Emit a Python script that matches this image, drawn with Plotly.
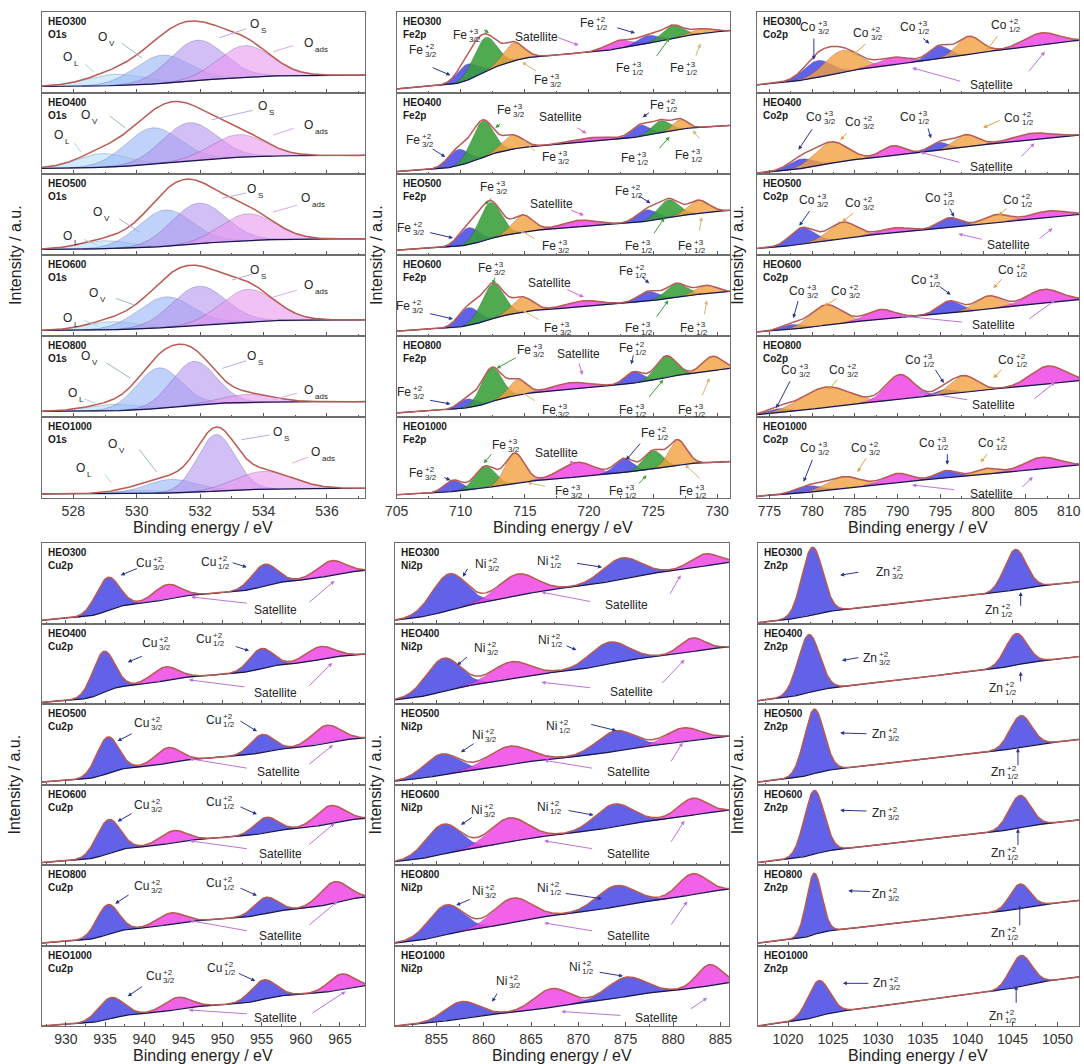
import math
import numpy as np
import plotly.graph_objects as go

W, H = 1084, 1064
SAMPLES = ["HEO300", "HEO400", "HEO500", "HEO600", "HEO800", "HEO1000"]

# ---------------- O 1s : O_L, O_V, O_S, O_ads ----------------
O1S_CENTER = [[529.3, 530.8, 531.9, 533.4], [528.9, 530.5, 531.65, 533.2], [529.0, 530.9, 531.95, 533.5],
              [529.2, 530.9, 531.95, 533.5], [529.2, 530.7, 531.8, 533.5], [530.0, 531.1, 532.5, 534.0]]
O1S_HEIGHT = [[0.14, 0.35, 0.50, 0.39], [0.17, 0.45, 0.47, 0.28], [0.10, 0.45, 0.50, 0.33],
              [0.10, 0.38, 0.48, 0.40], [0.08, 0.50, 0.54, 0.10], [0.04, 0.17, 0.70, 0.22]]
O1S_WIDTH = [[0.9, 0.85, 0.85, 0.85], [0.8, 0.85, 0.85, 0.85], [0.8, 0.85, 0.85, 0.85],
             [0.8, 0.85, 0.85, 0.85], [0.8, 0.7, 0.7, 0.8], [0.8, 0.8, 0.6, 0.9]]
O1S_BASE_LEFT = [0.08, 0.07, 0.07, 0.07, 0.07, 0.05]
O1S_BASE_RIGHT = [0.22, 0.23, 0.20, 0.20, 0.19, 0.12]

# ---------------- Fe 2p : Fe2+ 3/2, Fe3+ 3/2, Fe3+ 3/2, sat, Fe2+ 1/2, Fe3+ 1/2, Fe3+ 1/2 ----------------
FE_CENTER = [[710.5, 711.9, 714.1, 722.3, 724.6, 726.5, 728.7],
             [709.8, 711.7, 714.0, 720.0, 724.0, 725.6, 727.1],
             [710.6, 712.3, 714.8, 719.2, 724.5, 726.2, 728.5],
             [710.6, 712.5, 714.8, 719.5, 724.6, 726.8, 729.1],
             [710.5, 712.4, 714.4, 718.5, 723.5, 726.0, 729.6],
             [709.4, 711.9, 714.2, 719.0, 722.7, 725.0, 726.9]]
FE_HEIGHT = [[0.20, 0.42, 0.22, 0.10, 0.10, 0.16, 0.06],
             [0.20, 0.45, 0.17, 0.05, 0.14, 0.15, 0.12],
             [0.21, 0.45, 0.21, 0.08, 0.14, 0.22, 0.16],
             [0.22, 0.43, 0.18, 0.07, 0.12, 0.17, 0.10],
             [0.11, 0.42, 0.19, 0.08, 0.14, 0.27, 0.18],
             [0.14, 0.27, 0.37, 0.18, 0.17, 0.23, 0.31]]
FE_WIDTH = [[0.8, 0.9, 0.8, 1.0, 0.8, 0.8, 0.8],
            [0.8, 0.85, 0.8, 1.6, 0.7, 0.7, 0.55],
            [0.8, 0.85, 0.8, 1.3, 0.8, 0.8, 0.8],
            [0.8, 0.85, 0.8, 1.3, 0.8, 0.8, 0.8],
            [0.7, 0.8, 0.7, 1.4, 0.7, 0.8, 0.8],
            [0.7, 0.8, 0.75, 1.3, 0.7, 0.75, 0.7]]
FE_BASE_LEFT = [0.05, 0.03, 0.06, 0.06, 0.05, 0.04]
FE_BASE_RIGHT = [0.77, 0.60, 0.55, 0.55, 0.60, 0.45]

# ---------------- Co 2p : Co3+ 3/2, Co2+ 3/2, sat, Co3+ 1/2, Co2+ 1/2, sat ----------------
CO_CENTER = [[780.6, 783.5, 789.4, 794.8, 798.3, 806.7],
             [778.7, 782.2, 789.4, 794.8, 797.9, 805.6],
             [778.8, 783.5, 789.6, 796.0, 801.5, 807.5],
             [777.5, 781.6, 787.9, 796.0, 800.6, 807.0],
             [776.0, 781.5, 790.2, 795.4, 797.7, 807.5],
             [779.5, 783.6, 789.9, 795.6, 800.3, 806.7]]
CO_HEIGHT = [[0.21, 0.27, 0.09, 0.16, 0.22, 0.15],
             [0.12, 0.26, 0.12, 0.10, 0.15, 0.08],
             [0.20, 0.20, 0.06, 0.12, 0.10, 0.08],
             [0.06, 0.25, 0.12, 0.15, 0.16, 0.17],
             [0.05, 0.25, 0.30, 0.06, 0.20, 0.22],
             [0.08, 0.14, 0.11, 0.09, 0.07, 0.14]]
CO_WIDTH = [[1.6, 2.0, 1.8, 1.2, 1.4, 2.0],
            [1.5, 1.9, 1.3, 1.1, 1.4, 2.2],
            [1.4, 1.6, 1.6, 1.3, 1.5, 2.0],
            [1.2, 1.8, 1.6, 1.3, 1.5, 2.0],
            [1.2, 2.8, 1.6, 1.0, 1.5, 2.0],
            [1.5, 1.9, 1.5, 1.2, 1.3, 2.0]]
CO_BASE_LEFT = [0.10, 0.01, 0.08, 0.05, 0.03, 0.02]
CO_BASE_RIGHT = [0.65, 0.48, 0.50, 0.45, 0.45, 0.41]

# ---------------- Cu 2p : Cu2+ 3/2, sat, Cu2+ 1/2, sat ----------------
CU_CENTER = [[935.3, 942.9, 955.3, 963.8], [934.8, 942.6, 954.9, 962.4], [935.3, 943.0, 955.0, 963.2],
             [935.4, 943.7, 955.5, 963.7], [935.3, 943.3, 955.5, 964.2], [935.7, 944.2, 955.2, 965.1]]
CU_HEIGHT = [[0.41, 0.18, 0.27, 0.18], [0.51, 0.17, 0.25, 0.16], [0.45, 0.19, 0.22, 0.22],
             [0.42, 0.15, 0.19, 0.22], [0.37, 0.14, 0.20, 0.26], [0.26, 0.15, 0.24, 0.19]]
CU_WIDTH = [[1.5, 1.7, 1.6, 1.8], [1.4, 1.7, 1.5, 1.8], [1.4, 1.6, 1.5, 1.8],
            [1.5, 1.7, 1.5, 1.8], [1.4, 1.7, 1.5, 1.8], [1.6, 1.7, 1.6, 1.6]]
CU_BASE_LEFT = [0.04, 0.02, 0.03, 0.03, 0.03, 0.00]
CU_BASE_RIGHT = [0.66, 0.62, 0.58, 0.58, 0.60, 0.50]

# ---------------- Ni 2p : Ni2+ 3/2, sat, Ni2+ 1/2, sat ----------------
NI_CENTER = [[856.3, 863.5, 874.5, 883.3], [855.7, 862.8, 873.2, 882.0], [855.5, 862.6, 873.9, 881.0],
             [855.7, 862.6, 873.7, 882.0], [856.0, 863.0, 873.9, 882.0], [857.6, 867.1, 875.0, 883.8]]
NI_HEIGHT = [[0.45, 0.27, 0.26, 0.15], [0.41, 0.21, 0.27, 0.17], [0.26, 0.23, 0.25, 0.17],
             [0.37, 0.30, 0.28, 0.21], [0.37, 0.30, 0.26, 0.26], [0.21, 0.23, 0.24, 0.26]]
NI_WIDTH = [[1.8, 2.0, 2.0, 1.5], [1.8, 2.0, 2.0, 1.3], [1.8, 2.2, 2.0, 1.8],
            [1.8, 2.0, 2.0, 1.5], [1.8, 2.0, 2.0, 1.5], [1.8, 1.8, 2.0, 1.3]]
NI_BASE_LEFT = [0.04, 0.05, 0.04, 0.04, 0.03, 0.00]
NI_BASE_RIGHT = [0.76, 0.71, 0.60, 0.68, 0.70, 0.54]

# ---------------- Zn 2p : Zn2+ 3/2, Zn2+ 1/2 ----------------
ZN_CENTER = [[1022.7, 1045.3], [1022.3, 1045.4], [1022.9, 1045.9],
             [1022.9, 1045.8], [1022.9, 1045.8], [1023.4, 1045.9]]
ZN_HEIGHT = [[0.84, 0.50], [0.72, 0.39], [0.80, 0.39], [0.79, 0.40], [0.76, 0.30], [0.44, 0.38]]
ZN_WIDTH = [[1.15, 1.2], [1.2, 1.2], [1.1, 1.2], [1.1, 1.2], [0.85, 1.1], [1.2, 1.2]]
ZN_BASE_LEFT = [0.01, 0.04, 0.03, 0.03, 0.03, 0.00]
ZN_BASE_RIGHT = [0.52, 0.59, 0.56, 0.56, 0.56, 0.61]

# ---------------- styles ----------------
BLUE = "rgba(70,70,228,0.85)"
GREEN = "rgba(56,158,56,0.88)"
ORANGE = "rgba(242,160,62,0.80)"
MAGENTA = "rgba(238,70,228,0.85)"
O1S_COLORS = ["rgba(185,225,250,0.65)", "rgba(150,180,245,0.6)", "rgba(178,148,238,0.6)", "rgba(232,150,238,0.6)"]
ARROW = {"ol": "#a9d6ea", "ov": "#9fb3cc", "os": "#b9a9e3", "oads": "#e3a9e3",
         "navy": "#2b3590", "green": "#3c9c3c", "tan": "#d9b274", "orange": "#e2a040",
         "mag": "#d463d8", "violet": "#bd73d9"}
ENVELOPE = "#bb5a52"
BASELINE = "#16164e"
TEXT = "#262626"
FONT = "Liberation Sans, Arial, sans-serif"

# annotation layouts: (base, sup, sub, x, y, arrow colour, [(x0, y0, x1, y1), ...])
O1S_NOTES = [
    [("O", None, "L", 528.0, 0.44, "ol", [(528.33, 0.37, 528.65, 0.26)]),
     ("O", None, "V", 529.08, 0.69, "ov", [(529.48, 0.63, 530.17, 0.43)]),
     ("O", None, "S", 533.9, 0.85, "os", [(533.5, 0.80, 532.6, 0.68)]),
     ("O", None, "ads", 535.6, 0.62, "oads", [(534.98, 0.59, 534.3, 0.51)])],
    [("O", None, "L", 527.7, 0.48, "ol", [(528.0, 0.40, 528.24, 0.27)]),
     ("O", None, "V", 528.55, 0.73, "ov", [(529.1, 0.73, 529.64, 0.57)]),
     ("O", None, "S", 534.14, 0.84, "os", [(533.7, 0.79, 532.37, 0.67)]),
     ("O", None, "ads", 535.6, 0.60, "oads", [(535.0, 0.57, 534.3, 0.48)])],
    [("O", None, "L", 528.0, 0.24, "ol", [(528.3, 0.20, 528.85, 0.10)]),
     ("O", None, "V", 528.95, 0.53, "ov", [(529.4, 0.46, 530.1, 0.28)]),
     ("O", None, "S", 533.8, 0.81, "os", [(533.5, 0.77, 532.7, 0.70)]),
     ("O", None, "ads", 535.5, 0.70, "oads", [(535.1, 0.62, 534.3, 0.53)])],
    [("O", None, "L", 528.0, 0.22, "ol", [(528.3, 0.20, 528.8, 0.12)]),
     ("O", None, "V", 528.8, 0.53, "ov", [(529.3, 0.47, 529.95, 0.38)]),
     ("O", None, "S", 533.9, 0.81, "os", [(533.7, 0.77, 533.0, 0.69)]),
     ("O", None, "ads", 535.6, 0.63, "oads", [(535.1, 0.57, 534.3, 0.48)])],
    [("O", None, "L", 528.15, 0.30, "ol", [(528.3, 0.23, 528.7, 0.17)]),
     ("O", None, "V", 528.55, 0.75, "ov", [(529.0, 0.68, 529.8, 0.48)]),
     ("O", None, "S", 533.8, 0.75, "os", [(533.5, 0.70, 532.7, 0.60)]),
     ("O", None, "ads", 535.6, 0.33, "oads", [(535.1, 0.30, 534.3, 0.21)])],
    [("O", None, "L", 528.4, 0.37, "ol", [(528.96, 0.31, 529.2, 0.19)]),
     ("O", None, "V", 529.4, 0.67, "ov", [(530.04, 0.62, 530.63, 0.32)]),
     ("O", None, "S", 534.6, 0.82, "os", [(534.23, 0.78, 533.3, 0.72)]),
     ("O", None, "ads", 535.8, 0.57, "oads", [(535.45, 0.51, 534.9, 0.43)])],
]

FE_NOTES = [
    [("Fe", "+2", "3/2", 707.1, 0.53, "navy", [(707.7, 0.32, 709.2, 0.22)]),
     ("Fe", "+3", "3/2", 710.6, 0.72, "green", [(711.7, 0.79, 712.2, 0.74)]),
     ("Satellite", None, None, 715.9, 0.69, "mag", [(717.5, 0.69, 719.2, 0.59)]),
     ("Fe", "+3", "3/2", 716.9, 0.16, "tan", [(716.0, 0.26, 714.8, 0.38)]),
     ("Fe", "+2", "1/2", 720.5, 0.86, "navy", [(722.1, 0.81, 723.6, 0.74)]),
     ("Fe", "+3", "1/2", 723.3, 0.31, "green", [(725.2, 0.44, 726.3, 0.68)]),
     ("Fe", "+3", "1/2", 727.5, 0.31, "tan", [(728.3, 0.44, 728.7, 0.61)])],
    [("Fe", "+2", "3/2", 706.9, 0.42, "navy", [(707.7, 0.32, 708.8, 0.21)]),
     ("Fe", "+3", "3/2", 714.0, 0.79, "green", [(713.2, 0.63, 712.7, 0.57)]),
     ("Satellite", None, None, 717.8, 0.70, "mag", [(719.0, 0.58, 719.8, 0.50)]),
     ("Fe", "+3", "3/2", 717.5, 0.21, "tan", [(715.9, 0.27, 714.8, 0.42)]),
     ("Fe", "+2", "1/2", 725.9, 0.85, "navy", [(724.8, 0.77, 724.2, 0.70)]),
     ("Fe", "+3", "1/2", 723.7, 0.20, "green", [(725.4, 0.30, 726.3, 0.46)]),
     ("Fe", "+3", "1/2", 727.9, 0.23, "tan", [(728.7, 0.42, 728.1, 0.54)])],
    [("Fe", "+2", "3/2", 706.2, 0.33, "navy", [(707.5, 0.28, 709.4, 0.21)]),
     ("Fe", "+3", "3/2", 712.7, 0.84, "green", [(712.5, 0.72, 711.9, 0.62)]),
     ("Satellite", None, None, 717.1, 0.63, "mag", [(718.5, 0.56, 719.6, 0.49)]),
     ("Fe", "+3", "3/2", 717.5, 0.11, "tan", [(715.9, 0.19, 714.6, 0.31)]),
     ("Fe", "+2", "1/2", 723.2, 0.79, "navy", [(723.8, 0.74, 724.8, 0.64)]),
     ("Fe", "+3", "1/2", 724.0, 0.11, "green", [(725.0, 0.25, 725.9, 0.46)]),
     ("Fe", "+3", "1/2", 728.1, 0.11, "tan", [(728.6, 0.28, 728.8, 0.47)])],
    [("Fe", "+2", "3/2", 706.1, 0.37, "navy", [(707.5, 0.28, 709.4, 0.21)]),
     ("Fe", "+3", "3/2", 712.5, 0.84, "green", [(712.7, 0.74, 712.5, 0.64)]),
     ("Satellite", None, None, 716.9, 0.65, "mag", [(718.2, 0.58, 719.6, 0.48)]),
     ("Fe", "+3", "3/2", 717.7, 0.10, "tan", [(716.2, 0.19, 714.8, 0.32)]),
     ("Fe", "+2", "1/2", 723.5, 0.80, "navy", [(724.0, 0.75, 724.7, 0.65)]),
     ("Fe", "+3", "1/2", 724.0, 0.10, "green", [(725.2, 0.22, 726.2, 0.44)]),
     ("Fe", "+3", "1/2", 728.3, 0.10, "tan", [(729.0, 0.25, 729.2, 0.44)])],
    [("Fe", "+2", "3/2", 706.2, 0.31, "navy", [(707.5, 0.21, 709.2, 0.16)]),
     ("Fe", "+3", "3/2", 715.6, 0.83, "green", [(714.4, 0.74, 712.8, 0.60)]),
     ("Satellite", None, None, 719.2, 0.78, "mag", [(719.2, 0.68, 719.5, 0.52)]),
     ("Fe", "+3", "3/2", 717.5, 0.09, "tan", [(715.9, 0.19, 714.5, 0.33)]),
     ("Fe", "+2", "1/2", 723.5, 0.85, "navy", [(723.5, 0.78, 723.3, 0.65)]),
     ("Fe", "+3", "1/2", 723.5, 0.09, "green", [(724.6, 0.23, 725.8, 0.46)]),
     ("Fe", "+3", "1/2", 728.1, 0.09, "tan", [(728.8, 0.25, 729.4, 0.48)])],
    [("Fe", "+2", "3/2", 707.1, 0.31, "navy", [(708.6, 0.26, 709.2, 0.22)]),
     ("Fe", "+3", "3/2", 713.6, 0.65, "green", [(712.5, 0.56, 711.8, 0.43)]),
     ("Satellite", None, None, 717.5, 0.56, "mag", [(718.4, 0.48, 718.8, 0.41)]),
     ("Fe", "+3", "3/2", 718.5, 0.09, "tan", [(716.7, 0.14, 715.2, 0.19)]),
     ("Fe", "+2", "1/2", 725.2, 0.80, "navy", [(724.1, 0.69, 722.9, 0.47)]),
     ("Fe", "+3", "1/2", 722.7, 0.09, "green", [(723.8, 0.16, 724.5, 0.28)]),
     ("Fe", "+3", "1/2", 728.2, 0.09, "tan", [(728.8, 0.22, 727.5, 0.41)])],
]

CO_NOTES = [
    [("Co", "+3", "3/2", 780.6, 0.81, "navy", [(780.2, 0.69, 780.2, 0.41)]),
     ("Co", "+2", "3/2", 786.8, 0.74, "orange", [(786.4, 0.62, 784.8, 0.47)]),
     ("Co", "+3", "1/2", 792.2, 0.81, "navy", [(792.8, 0.69, 793.7, 0.61)]),
     ("Co", "+2", "1/2", 802.9, 0.84, "orange", [(801.8, 0.72, 800.4, 0.53)]),
     ("Satellite", None, None, 801.0, 0.10, "violet", [(797.5, 0.14, 791.7, 0.31), (805.2, 0.25, 807.2, 0.51)])],
    [("Co", "+3", "3/2", 781.3, 0.70, "navy", [(780.1, 0.57, 778.4, 0.30)]),
     ("Co", "+2", "3/2", 785.8, 0.64, "orange", [(784.2, 0.52, 783.3, 0.42)]),
     ("Co", "+3", "1/2", 792.3, 0.70, "navy", [(793.5, 0.58, 793.9, 0.44)]),
     ("Co", "+2", "1/2", 804.4, 0.69, "orange", [(802.1, 0.67, 800.0, 0.57)]),
     ("Satellite", None, None, 801.0, 0.09, "violet", [(797.4, 0.14, 792.6, 0.27), (804.3, 0.20, 806.0, 0.38)])],
    [("Co", "+3", "3/2", 780.4, 0.68, "navy", [(779.8, 0.56, 778.5, 0.36)]),
     ("Co", "+2", "3/2", 785.8, 0.64, "orange", [(785.0, 0.53, 783.5, 0.41)]),
     ("Co", "+3", "1/2", 795.2, 0.70, "navy", [(796.0, 0.59, 796.6, 0.47)]),
     ("Co", "+2", "1/2", 804.3, 0.68, "orange", [(802.9, 0.59, 801.8, 0.49)]),
     ("Satellite", None, None, 802.9, 0.12, "violet", [(800.0, 0.19, 797.1, 0.26), (806.4, 0.19, 808.1, 0.33)])],
    [("Co", "+3", "3/2", 779.3, 0.55, "navy", [(778.4, 0.45, 777.8, 0.22)]),
     ("Co", "+2", "3/2", 784.2, 0.56, "orange", [(783.0, 0.47, 781.4, 0.37)]),
     ("Co", "+3", "1/2", 793.5, 0.69, "navy", [(794.8, 0.62, 796.2, 0.51)]),
     ("Co", "+2", "1/2", 803.7, 0.81, "orange", [(802.3, 0.72, 801.2, 0.59)]),
     ("Satellite", None, None, 801.2, 0.14, "violet", [(797.7, 0.17, 790.2, 0.25), (805.2, 0.20, 808.4, 0.44)])],
    [("Co", "+3", "3/2", 778.3, 0.58, "navy", [(777.5, 0.46, 775.8, 0.11)]),
     ("Co", "+2", "3/2", 784.0, 0.58, "orange", [(783.1, 0.48, 781.9, 0.33)]),
     ("Co", "+3", "1/2", 792.8, 0.70, "navy", [(794.3, 0.60, 795.4, 0.42)]),
     ("Co", "+2", "1/2", 803.7, 0.70, "orange", [(802.3, 0.60, 801.2, 0.48)]),
     ("Satellite", None, None, 801.2, 0.15, "violet", [(798.3, 0.21, 792.5, 0.31), (805.8, 0.21, 808.4, 0.43)])],
    [("Co", "+3", "3/2", 780.6, 0.62, "navy", [(780.1, 0.49, 779.0, 0.20)]),
     ("Co", "+2", "3/2", 786.5, 0.62, "orange", [(786.4, 0.51, 785.3, 0.32)]),
     ("Co", "+3", "1/2", 794.5, 0.68, "navy", [(795.8, 0.56, 795.8, 0.41)]),
     ("Co", "+2", "1/2", 801.4, 0.68, "orange", [(800.6, 0.56, 799.7, 0.44)]),
     ("Satellite", None, None, 801.0, 0.05, "violet", [(796.8, 0.10, 791.7, 0.16), (804.4, 0.12, 805.8, 0.26)])],
]

CU_NOTES = [
    [("Cu", "+2", "3/2", 941.0, 0.75, "navy", [(939.25, 0.69, 937.0, 0.60)]),
     ("Cu", "+2", "1/2", 949.3, 0.76, "navy", [(951.1, 0.76, 953.1, 0.70)]),
     ("Satellite", None, None, 956.8, 0.17, "violet", [(953.3, 0.25, 946.0, 0.33), (960.9, 0.25, 964.3, 0.53)])],
    [("Cu", "+2", "3/2", 941.8, 0.76, "navy", [(939.9, 0.60, 937.9, 0.52)]),
     ("Cu", "+2", "1/2", 948.7, 0.81, "navy", [(951.5, 0.72, 953.4, 0.66)]),
     ("Satellite", None, None, 956.8, 0.14, "violet", [(953.0, 0.21, 945.7, 0.30), (960.9, 0.21, 964.0, 0.51)])],
    [("Cu", "+2", "3/2", 940.8, 0.76, "navy", [(938.6, 0.64, 936.6, 0.54)]),
     ("Cu", "+2", "1/2", 949.9, 0.80, "navy", [(952.1, 0.80, 954.4, 0.66)]),
     ("Satellite", None, None, 957.1, 0.15, "violet", [(953.3, 0.20, 945.8, 0.32), (960.9, 0.24, 964.1, 0.49)])],
    [("Cu", "+2", "3/2", 940.8, 0.74, "navy", [(938.6, 0.65, 936.6, 0.54)]),
     ("Cu", "+2", "1/2", 949.9, 0.78, "navy", [(952.1, 0.73, 954.4, 0.63)]),
     ("Satellite", None, None, 957.4, 0.14, "violet", [(953.3, 0.20, 945.8, 0.30), (960.9, 0.24, 964.3, 0.52)])],
    [("Cu", "+2", "3/2", 940.8, 0.74, "navy", [(938.2, 0.64, 936.3, 0.52)]),
     ("Cu", "+2", "1/2", 949.9, 0.78, "navy", [(952.1, 0.72, 954.4, 0.62)]),
     ("Satellite", None, None, 957.4, 0.12, "violet", [(953.3, 0.18, 945.8, 0.31), (960.9, 0.24, 964.7, 0.55)])],
    [("Cu", "+2", "3/2", 942.3, 0.62, "navy", [(939.9, 0.50, 937.9, 0.37)]),
     ("Cu", "+2", "1/2", 950.0, 0.72, "navy", [(951.9, 0.66, 954.2, 0.56)]),
     ("Satellite", None, None, 956.8, 0.10, "violet", [(953.3, 0.15, 945.7, 0.20), (961.3, 0.15, 965.7, 0.43)])],
]

NI_NOTES = [
    [("Ni", "+2", "3/2", 860.4, 0.74, "navy", [(858.4, 0.70, 857.8, 0.58)]),
     ("Ni", "+2", "1/2", 866.9, 0.78, "navy", [(869.7, 0.75, 872.5, 0.70)]),
     ("Satellite", None, None, 875.1, 0.23, "violet", [(871.4, 0.27, 866.1, 0.39), (879.6, 0.35, 880.8, 0.60)])],
    [("Ni", "+2", "3/2", 860.3, 0.69, "navy", [(858.4, 0.60, 857.2, 0.48)]),
     ("Ni", "+2", "1/2", 867.0, 0.79, "navy", [(868.6, 0.73, 869.8, 0.67)]),
     ("Satellite", None, None, 875.6, 0.15, "violet", [(871.4, 0.20, 866.1, 0.27), (878.7, 0.24, 881.2, 0.55)])],
    [("Ni", "+2", "3/2", 860.0, 0.61, "navy", [(859.1, 0.52, 857.6, 0.40)]),
     ("Ni", "+2", "1/2", 867.8, 0.73, "navy", [(871.2, 0.75, 874.0, 0.67)]),
     ("Satellite", None, None, 875.3, 0.15, "violet", [(871.6, 0.20, 866.4, 0.30), (879.7, 0.27, 881.0, 0.52)])],
    [("Ni", "+2", "3/2", 859.9, 0.68, "navy", [(858.9, 0.60, 857.6, 0.50)]),
     ("Ni", "+2", "1/2", 866.9, 0.72, "navy", [(868.8, 0.68, 871.6, 0.62)]),
     ("Satellite", None, None, 875.3, 0.14, "violet", [(871.6, 0.20, 866.4, 0.30), (879.7, 0.27, 881.2, 0.55)])],
    [("Ni", "+2", "3/2", 860.0, 0.68, "navy", [(858.7, 0.58, 857.1, 0.50)]),
     ("Ni", "+2", "1/2", 866.9, 0.72, "navy", [(868.5, 0.65, 872.5, 0.58)]),
     ("Satellite", None, None, 875.3, 0.12, "violet", [(871.6, 0.18, 866.4, 0.28), (879.7, 0.24, 881.5, 0.55)])],
    [("Ni", "+2", "3/2", 862.6, 0.56, "navy", [(861.5, 0.42, 860.9, 0.30)]),
     ("Ni", "+2", "1/2", 870.3, 0.73, "navy", [(872.1, 0.67, 874.7, 0.62)]),
     ("Satellite", None, None, 878.2, 0.10, "violet", [(874.6, 0.13, 868.2, 0.18), (881.7, 0.20, 883.6, 0.35)])],
]

ZN_NOTES = [
    [("Zn", "+2", "3/2", 1031.5, 0.64, "navy", [(1028.0, 0.64, 1025.8, 0.60)]),
     ("Zn", "+2", "1/2", 1043.6, 0.17, "navy", [(1045.9, 0.20, 1045.9, 0.39)])],
    [("Zn", "+2", "3/2", 1030.0, 0.57, "navy", [(1028.0, 0.58, 1026.0, 0.54)]),
     ("Zn", "+2", "1/2", 1044.1, 0.20, "navy", [(1045.9, 0.26, 1045.9, 0.40)])],
    [("Zn", "+2", "3/2", 1031.0, 0.63, "navy", [(1028.9, 0.63, 1025.8, 0.64)]),
     ("Zn", "+2", "1/2", 1044.3, 0.15, "navy", [(1045.6, 0.22, 1045.6, 0.45)])],
    [("Zn", "+2", "3/2", 1031.0, 0.65, "navy", [(1028.9, 0.67, 1025.8, 0.68)]),
     ("Zn", "+2", "1/2", 1044.3, 0.15, "navy", [(1045.6, 0.23, 1045.6, 0.45)])],
    [("Zn", "+2", "3/2", 1031.0, 0.64, "navy", [(1029.3, 0.67, 1026.7, 0.68)]),
     ("Zn", "+2", "1/2", 1044.3, 0.15, "navy", [(1045.8, 0.23, 1045.8, 0.50)])],
    [("Zn", "+2", "3/2", 1031.1, 0.54, "navy", [(1029.1, 0.53, 1026.1, 0.53)]),
     ("Zn", "+2", "1/2", 1044.1, 0.12, "navy", [(1045.4, 0.27, 1045.4, 0.50)])],
]

COLUMNS = [
    dict(name="O1s", c=O1S_CENTER, h=O1S_HEIGHT, w=O1S_WIDTH, bl=O1S_BASE_LEFT, br=O1S_BASE_RIGHT,
         shirley=0.9, xr=(527.0, 537.2), dtick=2, minor=1, colors=O1S_COLORS, notes=O1S_NOTES,
         px=(30, 358), block=(12, 498), head=0, ytitle_x=3),
    dict(name="Fe2p", c=FE_CENTER, h=FE_HEIGHT, w=FE_WIDTH, bl=FE_BASE_LEFT, br=FE_BASE_RIGHT,
         shirley=0.55, xr=(705.0, 731.0), dtick=5, minor=2.5,
         colors=[BLUE, GREEN, ORANGE, MAGENTA, BLUE, GREEN, ORANGE], notes=FE_NOTES,
         px=(390, 728), block=(12, 498), head=2, ytitle_x=369),
    dict(name="Co2p", c=CO_CENTER, h=CO_HEIGHT, w=CO_WIDTH, bl=CO_BASE_LEFT, br=CO_BASE_RIGHT,
         shirley=0.3, xr=(773.5, 811.2), dtick=5, minor=2.5,
         colors=[BLUE, ORANGE, MAGENTA, BLUE, ORANGE, MAGENTA], notes=CO_NOTES,
         px=(755, 1082), block=(12, 498), head=2, ytitle_x=735),
    dict(name="Cu2p", c=CU_CENTER, h=CU_HEIGHT, w=CU_WIDTH, bl=CU_BASE_LEFT, br=CU_BASE_RIGHT,
         shirley=0.5, xr=(926.9, 968.2), dtick=5, minor=2.5,
         colors=[BLUE, MAGENTA, BLUE, MAGENTA], notes=CU_NOTES,
         px=(30, 358), block=(543, 1026), head=2, ytitle_x=3),
    dict(name="Ni2p", c=NI_CENTER, h=NI_HEIGHT, w=NI_WIDTH, bl=NI_BASE_LEFT, br=NI_BASE_RIGHT,
         shirley=0.35, xr=(850.6, 885.9), dtick=5, minor=2.5,
         colors=[BLUE, MAGENTA, BLUE, MAGENTA], notes=NI_NOTES,
         px=(388, 727), block=(543, 1026), head=2, ytitle_x=369),
    dict(name="Zn2p", c=ZN_CENTER, h=ZN_HEIGHT, w=ZN_WIDTH, bl=ZN_BASE_LEFT, br=ZN_BASE_RIGHT,
         shirley=0.15, xr=(1016.6, 1052.4), dtick=5, minor=2.5,
         colors=[BLUE, BLUE], notes=ZN_NOTES,
         px=(756, 1082), block=(543, 1026), head=2, ytitle_x=736),
]

_erf = np.vectorize(math.erf)


def gaussian(x, c, h, s):
    return h * np.exp(-0.5 * ((x - c) / s) ** 2)


def background(x, cs, hs, ss, left, right, shirley):
    # Shirley-type step (normalised peak area to the left) mixed with a linear slope
    area = sum(h * s * (1 + _erf((x - c) / (s * math.sqrt(2)))) for c, h, s in zip(cs, hs, ss))
    area = area / area[-1]
    lin = (x - x[0]) / (x[-1] - x[0])
    return left + (right - left) * ((1 - shirley) * lin + shirley * area)


def aid(k):
    return "" if k == 1 else str(k)


fig = go.Figure()
layout = dict(width=W, height=H, margin=dict(l=0, r=0, t=0, b=0), showlegend=False,
              paper_bgcolor="white", plot_bgcolor="white")
ann = []


def add_label(k, base, sup, sub, x, y):
    xr, yr = "x" + aid(k), "y" + aid(k)
    plain = sup is None and sub is None
    ann.append(dict(xref=xr, yref=yr, x=x, y=y, text=base, showarrow=False,
                    xanchor="center" if plain else "right", yanchor="middle",
                    font=dict(family=FONT, size=12, color=TEXT), borderpad=0))
    if sup:
        ann.append(dict(xref=xr, yref=yr, x=x, y=y, text=sup, showarrow=False, xanchor="left",
                        yanchor="bottom", yshift=-2, font=dict(family=FONT, size=8, color=TEXT), borderpad=0))
    if sub:
        ann.append(dict(xref=xr, yref=yr, x=x, y=y, text=sub, showarrow=False, xanchor="left",
                        yanchor="top", yshift=1 if sup else -1, font=dict(family=FONT, size=8, color=TEXT),
                        borderpad=0))


for ci, col in enumerate(COLUMNS):
    x = np.linspace(col["xr"][0], col["xr"][1], 700)
    top, bottom = col["block"]
    row_h = (bottom - top) / 6.0
    for r in range(6):
        k = ci * 6 + r + 1
        xa, ya = "x" + aid(k), "y" + aid(k)
        cs, hs, ss = col["c"][r], col["h"][r], col["w"][r]
        base = background(x, cs, hs, ss, col["bl"][r], col["br"][r], col["shirley"])
        comps = [gaussian(x, c, h, s) for c, h, s in zip(cs, hs, ss)]
        for g, color in zip(comps, col["colors"]):
            m = g > 0.004
            xs = x[m]
            fig.add_trace(go.Scatter(
                x=np.concatenate([xs, xs[::-1]]),
                y=np.concatenate([base[m] + g[m], base[m][::-1]]),
                mode="lines", fill="toself", fillcolor=color,
                line=dict(width=0.6, color="rgba(30,30,80,0.35)"),
                hoverinfo="skip", xaxis=xa, yaxis=ya))
        fig.add_trace(go.Scatter(x=x, y=base, mode="lines", line=dict(color=BASELINE, width=1.2),
                                 hoverinfo="skip", xaxis=xa, yaxis=ya))
        fig.add_trace(go.Scatter(x=x, y=base + sum(comps), mode="lines",
                                 line=dict(color=ENVELOPE, width=1.5),
                                 hoverinfo="skip", xaxis=xa, yaxis=ya))

        y_top = top + r * row_h
        y_bot = y_top + row_h
        last = r == 5
        layout["xaxis" + aid(k)] = dict(
            domain=[col["px"][0] / W, col["px"][1] / W], anchor=ya, range=list(col["xr"]),
            showline=True, mirror=True, linecolor="#6e6e6e", linewidth=1, showgrid=False, zeroline=False,
            ticks="inside", ticklen=4, tickwidth=1, tickcolor="#555", dtick=col["dtick"], tick0=0,
            minor=dict(ticks="inside", ticklen=2, dtick=col["minor"], tick0=0, tickcolor="#555"),
            showticklabels=last, tickfont=dict(family=FONT, size=14, color="#333"))
        layout["yaxis" + aid(k)] = dict(
            domain=[1 - y_bot / H, 1 - y_top / H], anchor=xa, range=[0, 1],
            showline=True, mirror=True, linecolor="#6e6e6e", linewidth=1, showgrid=False, zeroline=False,
            ticks="", showticklabels=False)

        ann.append(dict(xref=xa + " domain", yref=ya + " domain", x=0, y=1, xanchor="left", yanchor="top",
                        xshift=4, yshift=-2, align="left", showarrow=False,
                        text="<b>%s<br>%s</b>" % (SAMPLES[r], col["name"]),
                        font=dict(family=FONT, size=10, color="#1a1a1a")))

        for base_txt, sup, sub, tx, ty, ckey, arrows in col["notes"][r]:
            add_label(k, base_txt, sup, sub, tx, ty)
            for x0, y0, x1, y1 in arrows:
                ann.append(dict(xref=xa, yref=ya, axref=xa, ayref=ya, x=x1, y=y1, ax=x0, ay=y0,
                                text="", showarrow=True, arrowhead=col["head"], arrowsize=0.8,
                                arrowwidth=1, arrowcolor=ARROW[ckey], standoff=0, startstandoff=0))

    # axis titles for the column
    cx = (col["px"][0] + col["px"][1]) / 2.0 / W
    ann.append(dict(xref="paper", yref="paper", x=cx, y=1 - (bottom + 29) / H, showarrow=False,
                    text="Binding energy / eV", xanchor="center", yanchor="middle",
                    font=dict(family=FONT, size=16, color="#222")))
    ann.append(dict(xref="paper", yref="paper", x=col["ytitle_x"] / W, y=1 - (top + bottom) / 2.0 / H,
                    showarrow=False, text="Intensity / a.u.", textangle=-90, xanchor="center",
                    yanchor="middle", font=dict(family=FONT, size=16, color="#222")))

layout["annotations"] = ann
fig.update_layout(**layout)
fig.write_html("out.html")
